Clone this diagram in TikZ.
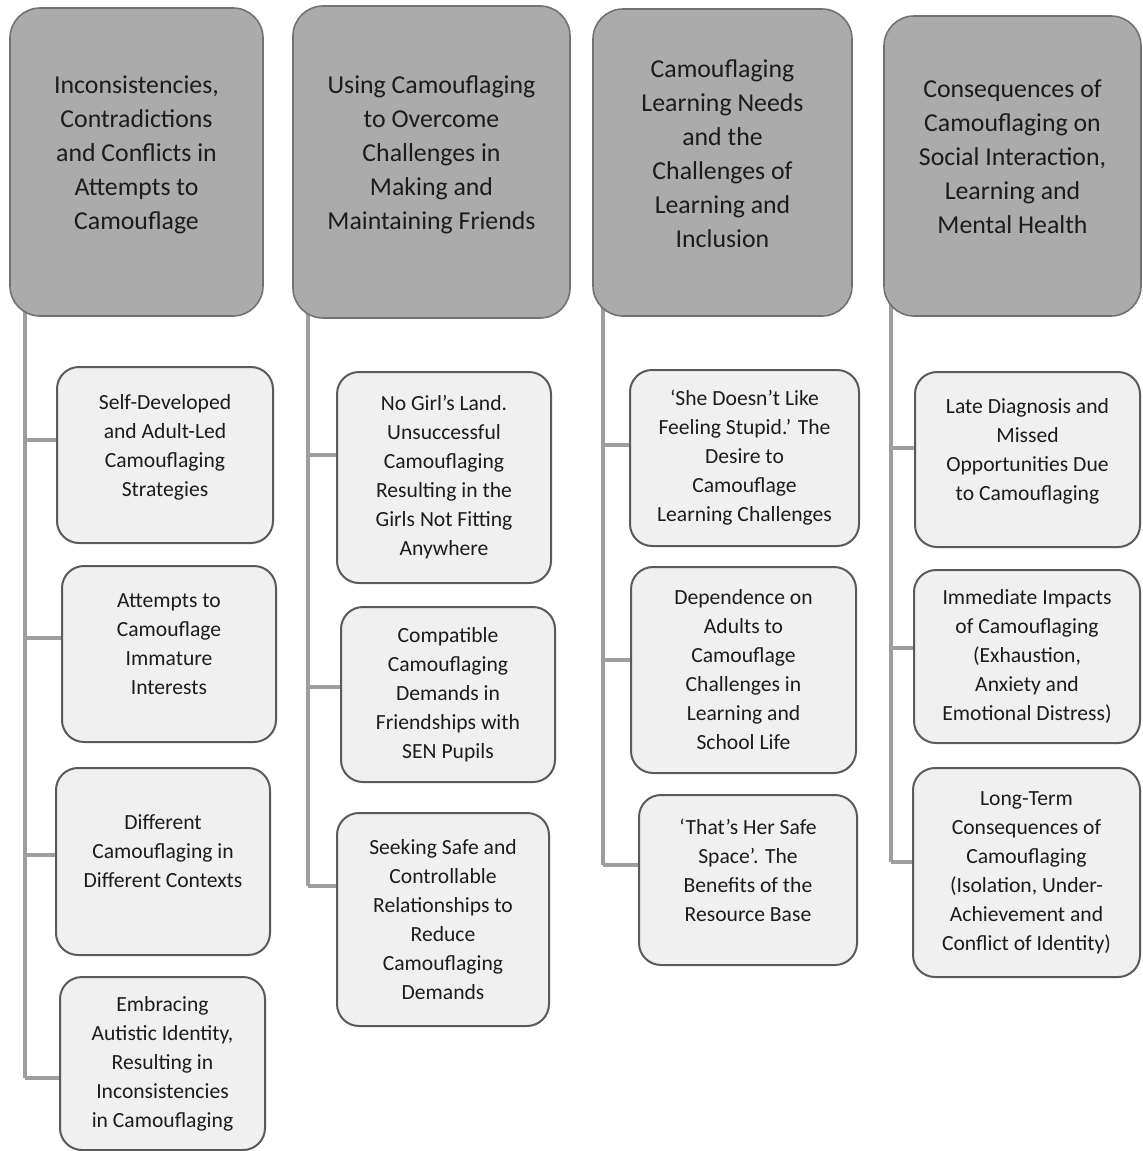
\documentclass[tikz,border=0pt]{standalone}
\usepackage{fontspec}
\setmainfont{Carlito}
\usetikzlibrary{backgrounds}
\definecolor{kopf}{HTML}{ABABAB}
\definecolor{kopfrand}{HTML}{727272}
\definecolor{feld}{HTML}{F0F0F0}
\definecolor{feldrand}{HTML}{5A5A5A}
\definecolor{ast}{HTML}{9E9E9E}
\definecolor{schrift}{HTML}{1C1C1C}
\tikzset{
  thema/.style={draw=kopfrand,fill=kopf,line width=0.8pt,rounded corners=15pt,inner sep=0pt,
    align=center,text=schrift,text depth=9pt,font=\fontsize{12.9}{17}\selectfont},
  unter/.style={draw=feldrand,fill=feld,line width=1pt,rounded corners=11pt,inner sep=0pt,
    align=center,text=schrift,font=\fontsize{10.8}{14.5}\selectfont},
  hoch/.style={text depth=10pt},
  linie/.style={ast,line width=1.6pt},
}
\begin{document}
\begin{tikzpicture}[x=0.5pt,y=-0.5pt]
  \useasboundingbox (0,0) rectangle (1143,1151);
  % --- Hauptthemen ---
  \node[thema,minimum width=126.5pt,minimum height=154pt] (h1) at (136.5,162)
    {Inconsistencies,\\Contradictions\\and Conflicts in\\Attempts to\\Camouflage};
  \node[thema,minimum width=138.5pt,minimum height=156pt] (h2) at (431.5,162)
    {Using Camouflaging\\to Overcome\\Challenges in\\Making and\\Maintaining Friends};
  \node[thema,minimum width=129.5pt,minimum height=153.5pt] (h3) at (722.5,162.5)
    {Camouflaging\\Learning Needs\\and the\\Challenges of\\Learning and\\Inclusion};
  \node[thema,minimum width=128.5pt,minimum height=150pt] (h4) at (1012.5,166)
    {Consequences of\\Camouflaging on\\Social Interaction,\\Learning and\\Mental Health};
  % --- Unterthemen Spalte 1 ---
  \node[unter,hoch,minimum width=108pt,minimum height=88pt] (c11) at (165,455)
    {Self-Developed\\and Adult-Led\\Camouflaging\\Strategies};
  \node[unter,hoch,minimum width=107pt,minimum height=88pt] (c12) at (169,654)
    {Attempts to\\Camouflage\\Immature\\Interests};
  \node[unter,hoch,minimum width=107pt,minimum height=93.5pt] (c13) at (163,861.5)
    {Different\\Camouflaging in\\Different Contexts};
  \node[unter,minimum width=102.5pt,minimum height=86.5pt] (c14) at (162.5,1063.5)
    {Embracing\\Autistic Identity,\\Resulting in\\Inconsistencies\\in Camouflaging};
  % --- Unterthemen Spalte 2 ---
  \node[unter,minimum width=107pt,minimum height=105.5pt] (c21) at (444,477.5)
    {No Girl’s Land.\\Unsuccessful\\Camouflaging\\Resulting in the\\Girls Not Fitting\\Anywhere};
  \node[unter,minimum width=107pt,minimum height=87.5pt] (c22) at (448,694.5)
    {Compatible\\Camouflaging\\Demands in\\Friendships with\\SEN Pupils};
  \node[unter,minimum width=106pt,minimum height=106.5pt] (c23) at (443,919.5)
    {Seeking Safe and\\Controllable\\Relationships to\\Reduce\\Camouflaging\\Demands};
  % --- Unterthemen Spalte 3 ---
  \node[unter,minimum width=114.5pt,minimum height=88pt] (c31) at (744.5,458)
    {‘She Doesn’t Like\\Feeling Stupid.’ The\\Desire to\\Camouflage\\Learning Challenges};
  \node[unter,minimum width=112.5pt,minimum height=103pt] (c32) at (743.5,670)
    {Dependence on\\Adults to\\Camouflage\\Challenges in\\Learning and\\School Life};
  \node[unter,hoch,minimum width=109pt,minimum height=85pt] (c33) at (748,880)
    {‘That’s Her Safe\\Space’. The\\Benefits of the\\Resource Base};
  % --- Unterthemen Spalte 4 ---
  \node[unter,hoch,minimum width=112.5pt,minimum height=87.5pt] (c41) at (1027.5,459.5)
    {Late Diagnosis and\\Missed\\Opportunities Due\\to Camouflaging};
  \node[unter,minimum width=113pt,minimum height=86.5pt] (c42) at (1027,656.5)
    {Immediate Impacts\\of Camouflaging\\(Exhaustion,\\Anxiety and\\Emotional Distress)};
  \node[unter,minimum width=113.5pt,minimum height=104.5pt] (c43) at (1026.5,872.5)
    {Long-Term\\Consequences of\\Camouflaging\\(Isolation, Under-\\Achievement and\\Conflict of Identity)};
  % --- Abzweigpunkte ---
  \coordinate (k11) at (25,440);
  \coordinate (k12) at (25,638);
  \coordinate (k13) at (25,855);
  \coordinate (k14) at (25,1078);
  \coordinate (k21) at (308,455);
  \coordinate (k22) at (308,687);
  \coordinate (k23) at (308,886);
  \coordinate (k31) at (603,445);
  \coordinate (k32) at (603,660);
  \coordinate (k33) at (603,865);
  \coordinate (k41) at (891,448);
  \coordinate (k42) at (891,648);
  \coordinate (k43) at (891,862);
  % --- Linien hinter den Kaesten ---
  \begin{scope}[on background layer]
    \draw[linie] (h1.center -| k14) -- (k14);
    \draw[linie] (h2.center -| k23) -- (k23);
    \draw[linie] (h3.center -| k33) -- (k33);
    \draw[linie] (h4.center -| k43) -- (k43);
    \draw[linie] (k11) -- (c11.west |- k11);
    \draw[linie] (k12) -- (c12.west |- k12);
    \draw[linie] (k13) -- (c13.west |- k13);
    \draw[linie] (k14) -- (c14.west |- k14);
    \draw[linie] (k21) -- (c21.west |- k21);
    \draw[linie] (k22) -- (c22.west |- k22);
    \draw[linie] (k23) -- (c23.west |- k23);
    \draw[linie] (k31) -- (c31.west |- k31);
    \draw[linie] (k32) -- (c32.west |- k32);
    \draw[linie] (k33) -- (c33.west |- k33);
    \draw[linie] (k41) -- (c41.west |- k41);
    \draw[linie] (k42) -- (c42.west |- k42);
    \draw[linie] (k43) -- (c43.west |- k43);
  \end{scope}
\end{tikzpicture}
\end{document}
